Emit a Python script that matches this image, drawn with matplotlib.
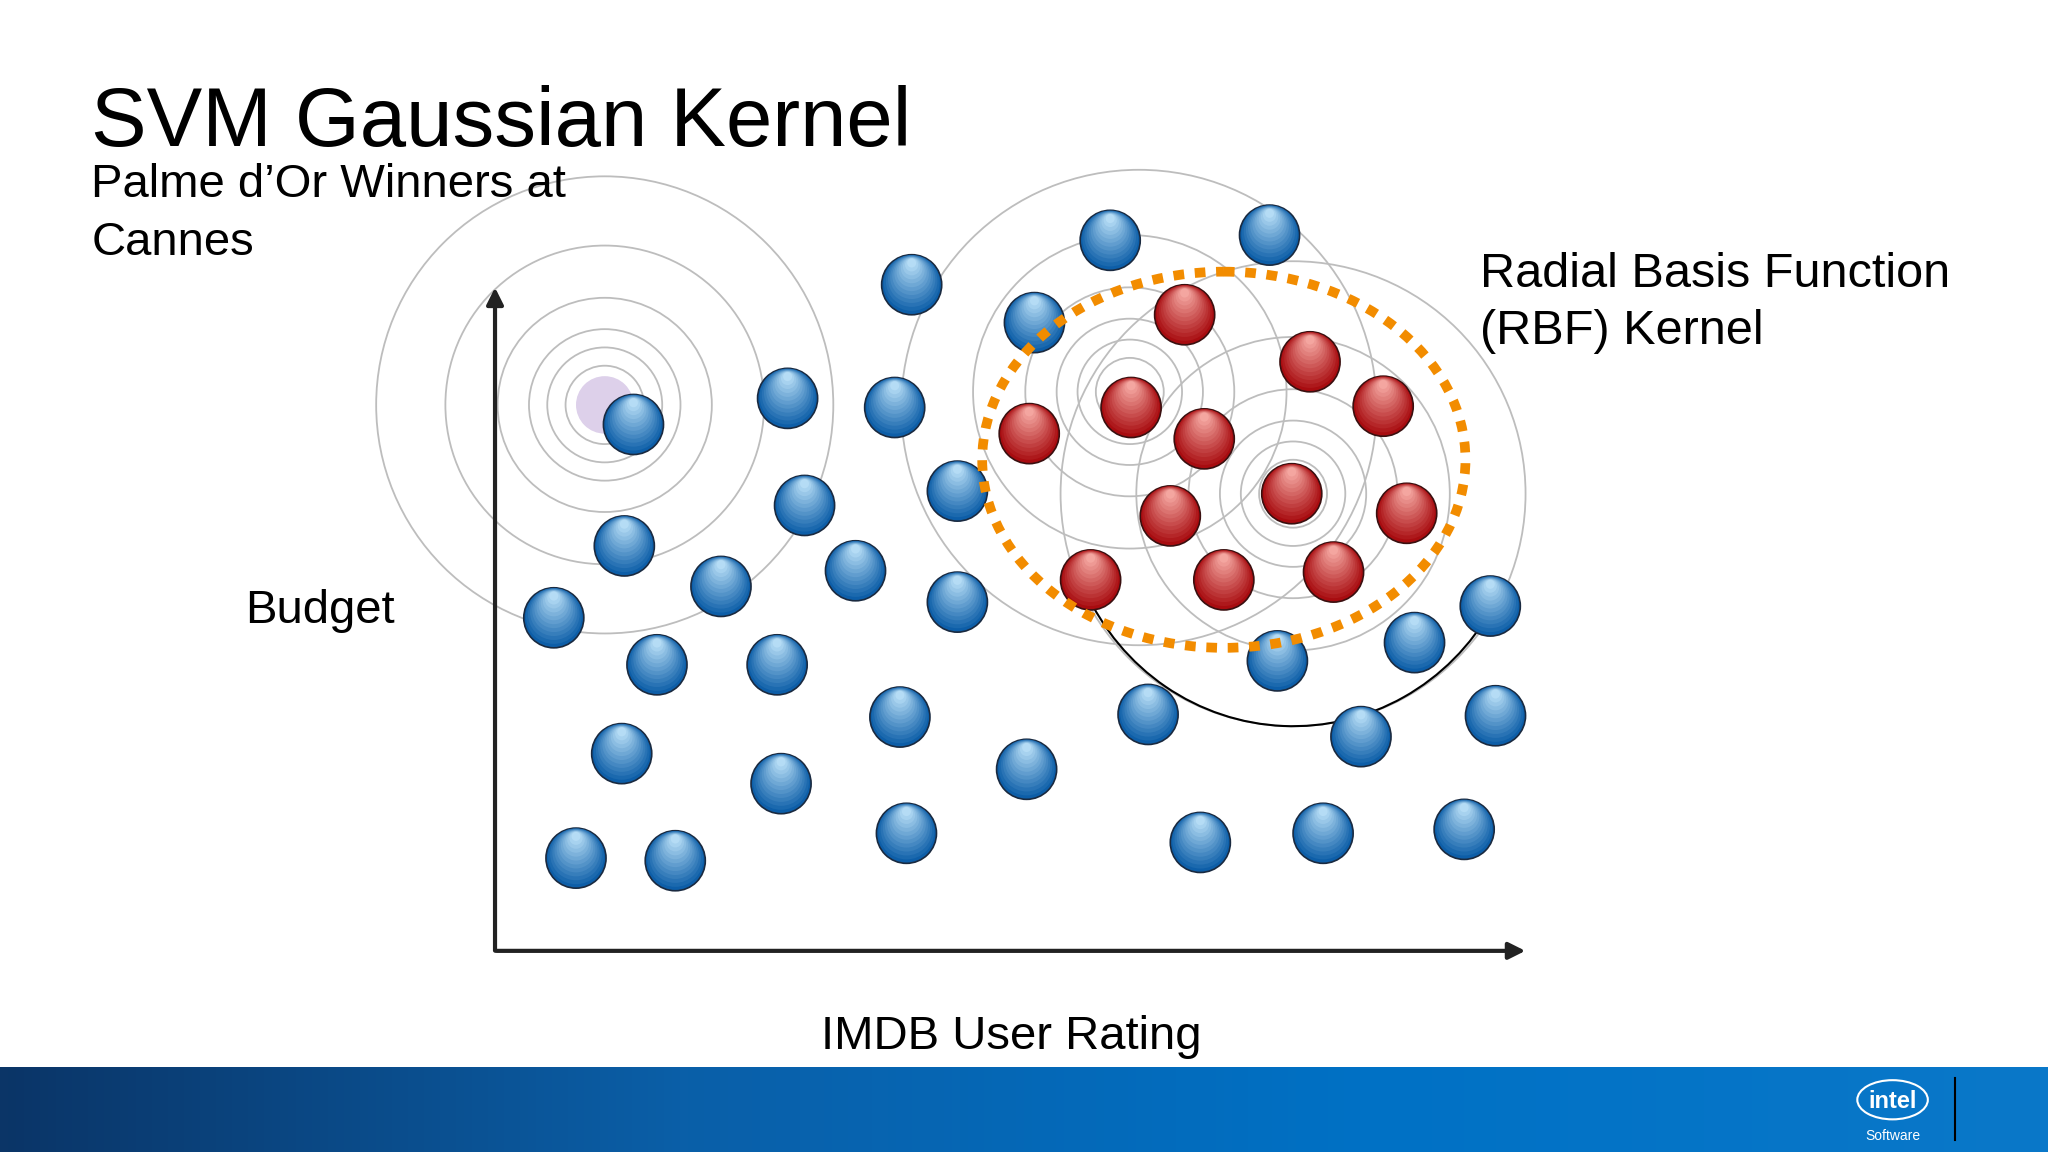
import numpy as np
import matplotlib.pyplot as plt
from matplotlib.patches import Circle, Ellipse, Arc
from matplotlib.colors import LinearSegmentedColormap, to_rgb

plt.rcParams['font.family'] = ['Liberation Sans', 'DejaVu Sans']

blue_x = [485,603,698,685,850,972,792,616,478,552,424,655,733,733,503,595,476,598,689,786,441,517,694,879,978,1083,1141,1145,1042,919,1013,1121]
blue_y = [325,305,218,312,184,180,247,387,418,449,473,437,376,461,509,509,577,600,549,589,657,659,638,547,506,492,464,548,564,645,638,635]
red_x = [907,1003,866,788,922,1059,989,896,1077,835,937,1021]
red_y = [241,277,312,332,336,311,378,395,393,444,444,438]

centers = [(463,310),(865,300),(990,378)]
rings = [[175,122,82,58,44,30],[120,80,56,40,26],[178,120,80,56,40,26]]

W, H = 1568, 882
fig = plt.figure(figsize=(20.48,11.52), dpi=100)
ax = fig.add_axes([0,0,1,1])
ax.set_xlim(0,W); ax.set_ylim(H,0); ax.axis('off')

for (cx,cy),rs in zip(centers,rings):
    for r in rs:
        ax.add_patch(Circle((cx,cy),r,fill=False,ec='#bdbdbd',lw=1.3,zorder=1))
ax.add_patch(Circle((872,312),182,fill=False,ec='#bdbdbd',lw=1.3,zorder=1))
ax.add_patch(Circle((463,310),22,fc='#ddd0ea',ec='none',zorder=1))
ax.add_patch(Arc((990,378),350,356,theta1=30,theta2=155,color='black',lw=1.5,zorder=2))

def ball(x,y,dark,light,edge):
    R=23
    ax.add_patch(Circle((x,y),R,fc=dark,ec=edge,lw=1.2,zorder=5))
    cd=np.array(to_rgb(dark)); cl=np.array(to_rgb(light))
    n=12
    for i in range(1,n+1):
        t=i/n
        r=R*(1-0.85*t)
        c=cd*(1-t)+cl*t
        ax.add_patch(Circle((x,y-(R-r)*0.85),r,fc=c,ec='none',zorder=5+i*0.01))
for x,y in zip(blue_x,blue_y):
    ball(x,y,'#0d5ea8','#b5dcf5','#1a2a40')
for x,y in zip(red_x,red_y):
    ball(x,y,'#a80c10','#f4a6a0','#3a1010')

ax.add_patch(Ellipse((937,352),370,288,fill=False,ec='#f28c00',lw=7,ls=(0,(1.1,1.1)),zorder=8))

ax.annotate('',xy=(1170,728),xytext=(378,728),arrowprops=dict(arrowstyle='-|>',lw=3,color='#222222',mutation_scale=25),zorder=3)
ax.annotate('',xy=(379,218),xytext=(379,730),arrowprops=dict(arrowstyle='-|>',lw=3,color='#222222',mutation_scale=25),zorder=3)

ax.text(70,95,'SVM Gaussian Kernel',fontsize=60,va='center',ha='left')
ax.text(70,142,'Palme d\u2019Or Winners at',fontsize=34,va='center')
ax.text(70,186,'Cannes',fontsize=34,va='center')
ax.text(1133,210,'Radial Basis Function',fontsize=35,va='center')
ax.text(1133,254,'(RBF) Kernel',fontsize=35,va='center')
ax.text(188,468,'Budget',fontsize=34,va='center')
ax.text(774,794,'IMDB User Rating',fontsize=34,va='center',ha='center')

grad=np.linspace(0,1,256)[None,:]
cm=LinearSegmentedColormap.from_list('b',['#0b3567','#0a5fa8','#0071c5','#0a78c9'])
ax.imshow(grad,extent=(0,W,H,817),cmap=cm,aspect='auto',zorder=0)
ax.set_xlim(0,W); ax.set_ylim(H,0)
ax.text(1449,843,'intel',color='white',fontsize=17,fontweight='bold',ha='center',va='center')
ax.add_patch(Ellipse((1449,842),54,30,fill=False,ec='white',lw=1.5))
ax.text(1449,870,'Software',color='white',fontsize=10,ha='center',va='center')
ax.plot([1497,1497],[825,873],color='black',lw=1.5)

fig.savefig('out.png',dpi=100)
